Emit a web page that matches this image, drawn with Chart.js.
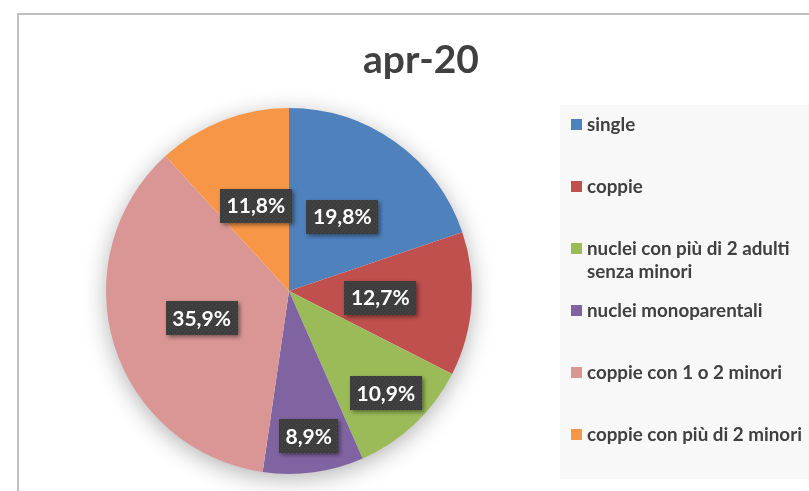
<!DOCTYPE html>
<html><head><meta charset="utf-8">
<script src="https://cdn.jsdelivr.net/npm/chart.js@4/dist/chart.umd.min.js"></script>
<style>html,body{margin:0;padding:0;background:#fff;overflow:hidden}#wrap{position:relative;width:809px;height:491px}</style>
</head><body><div id="wrap"><canvas id="c" width="809" height="491"></canvas></div>
<script>
const chartTitle = 'apr-20';
const categories = ['single', 'coppie', 'nuclei con più di 2 adulti senza minori', 'nuclei monoparentali', 'coppie con 1 o 2 minori', 'coppie con più di 2 minori'];
const values = [19.8, 12.7, 10.9, 8.9, 35.9, 11.8];
const legendLines = [['single'], ['coppie'], ['nuclei con più di 2 adulti', 'senza minori'], ['nuclei monoparentali'], ['coppie con 1 o 2 minori'], ['coppie con più di 2 minori']];
const colors = ['#4F81BD', '#C0504D', '#9BBB59', '#8064A2', '#D99694', '#F79646'];
const labelRadius = [0.5, 0.5, 0.77, 0.8, 0.5, 0.5];

const FONT = 'Lato, "Open Sans", sans-serif';

function makePattern(ctx) {
  const p = document.createElement('canvas');
  p.width = 4; p.height = 4;
  const g = p.getContext('2d');
  g.fillStyle = '#3d3d3d'; g.fillRect(0, 0, 4, 4);
  g.fillStyle = '#4a4a4a'; g.fillRect(0, 0, 1, 1); g.fillRect(2, 2, 1, 1);
  return ctx.createPattern(p, 'repeat');
}

const decor = {
  id: 'decor',
  beforeDraw(chart) {
    const ctx = chart.ctx;
    ctx.save();
    ctx.fillStyle = '#ffffff';
    ctx.fillRect(0, 0, chart.width, chart.height);
    // frame
    ctx.strokeStyle = '#BFBFBF';
    ctx.lineWidth = 2;
    ctx.strokeRect(18, 14, chart.width + 10, chart.height + 10);
    // legend background
    ctx.fillStyle = '#F8F8F8';
    ctx.fillRect(560, 105, chart.width - 560, 374);
    // title
    ctx.fillStyle = '#404040';
    ctx.font = 'bold 39px ' + FONT;
    ctx.textAlign = 'center';
    ctx.textBaseline = 'alphabetic';
    ctx.fillText(chartTitle, 421, 73);
    // legend
    ctx.textAlign = 'left';
    ctx.textBaseline = 'middle';
    ctx.font = 'bold 18.8px ' + FONT;
    legendLines.forEach((lines, i) => {
      const y = 125 + i * 62;
      ctx.fillStyle = colors[i];
      ctx.fillRect(571, y - 6, 11, 11);
      ctx.fillStyle = '#404040';
      lines.forEach((t, j) => ctx.fillText(t, 587, y + j * 23));
    });
    // pie shadow
    const meta = chart.getDatasetMeta(0);
    const arc = meta.data[0];
    if (arc) {
      ctx.shadowColor = 'rgba(0,0,0,0.32)';
      ctx.shadowBlur = 24;
      ctx.shadowOffsetX = 0;
      ctx.shadowOffsetY = 5;
      ctx.fillStyle = '#ffffff';
      ctx.beginPath();
      ctx.arc(arc.x, arc.y, arc.outerRadius - 1, 0, Math.PI * 2);
      ctx.fill();
    }
    ctx.restore();
  },
  afterDatasetsDraw(chart) {
    const ctx = chart.ctx;
    const meta = chart.getDatasetMeta(0);
    const pat = makePattern(ctx);
    ctx.save();
    ctx.font = 'bold 21px ' + FONT;
    ctx.textAlign = 'center';
    ctx.textBaseline = 'middle';
    meta.data.forEach((a, i) => {
      const mid = (a.startAngle + a.endAngle) / 2;
      const r = a.outerRadius * labelRadius[i];
      const x = a.x + Math.cos(mid) * r;
      const y = a.y + Math.sin(mid) * r;
      const txt = values[i].toFixed(1).replace('.', ',') + '%';
      const w = ctx.measureText(txt).width + 13;
      const h = 34;
      ctx.save();
      ctx.shadowColor = 'rgba(0,0,0,0.45)';
      ctx.shadowBlur = 4;
      ctx.shadowOffsetX = 2;
      ctx.shadowOffsetY = 2;
      ctx.fillStyle = pat;
      ctx.fillRect(Math.round(x - w / 2), Math.round(y - h / 2), Math.round(w), h);
      ctx.restore();
      ctx.fillStyle = '#ffffff';
      ctx.fillText(txt, x, y + 1);
    });
    ctx.restore();
  }
};

new Chart(document.getElementById('c'), {
  type: 'pie',
  data: {
    labels: categories,
    datasets: [{ data: values, backgroundColor: colors, borderWidth: 0 }]
  },
  options: {
    responsive: false,
    animation: false,
    layout: { padding: { left: 106, right: 337, top: 108, bottom: 17 } },
    plugins: { legend: { display: false }, tooltip: { enabled: false }, title: { display: false } }
  },
  plugins: [decor]
});
</script>
</body></html>
